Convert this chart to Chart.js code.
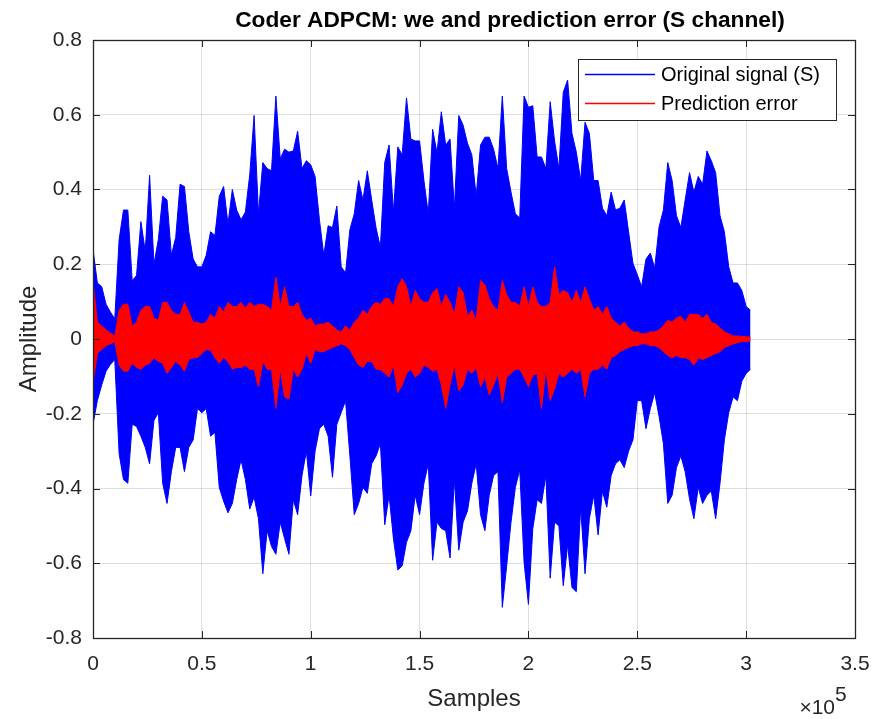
<!DOCTYPE html>
<html>
<head>
<meta charset="utf-8">
<title>Coder ADPCM</title>
<script src="https://cdn.jsdelivr.net/npm/chart.js@4.4.1/dist/chart.umd.min.js"></script>
<style>
	html, body { margin: 0; padding: 0; background: #fff; }
	#wrap { width: 876px; height: 719px; position: relative; }
</style>
</head>
<body>
<div id="wrap"><canvas id="adpcmChart"></canvas></div>
<script>
// Envelope of the waveform, every 2000 samples (0 .. 302000)
const step = 2000;

// Original signal (S): upper / lower peaks
const sigHi = [
	0.24, 0.15, 0.14, 0.093, 0.072, 0.054, 0.266, 0.345, 0.345, 0.156, 0.17, 0.314, 0.235, 0.438, 0.2, 0.266, 0.382, 0.372, 0.224, 0.272, 0.414, 0.408, 0.287, 0.214, 0.193,
	0.193, 0.224, 0.287, 0.277, 0.382, 0.408, 0.308, 0.4, 0.345, 0.319, 0.34, 0.44, 0.598, 0.335, 0.472, 0.456, 0.45, 0.65, 0.482, 0.508, 0.5, 0.503, 0.556, 0.456, 0.477,
	0.466, 0.435, 0.319, 0.224, 0.303, 0.298, 0.356, 0.193, 0.177, 0.293, 0.335, 0.424, 0.372, 0.45, 0.372, 0.298, 0.245, 0.472, 0.519, 0.34, 0.514, 0.493, 0.645, 0.535, 0.53,
	0.53, 0.424, 0.335, 0.561, 0.498, 0.608, 0.519, 0.535, 0.35, 0.598, 0.572, 0.524, 0.493, 0.382, 0.519, 0.54, 0.54, 0.508, 0.456, 0.65, 0.456, 0.393, 0.335, 0.324, 0.65,
	0.62, 0.624, 0.487, 0.487, 0.456, 0.635, 0.53, 0.456, 0.66, 0.693, 0.55, 0.5, 0.424, 0.58, 0.55, 0.424, 0.424, 0.35, 0.33, 0.393, 0.345, 0.35, 0.372, 0.287, 0.203,
	0.172, 0.14, 0.214, 0.23, 0.19, 0.3, 0.345, 0.472, 0.424, 0.33, 0.298, 0.372, 0.445, 0.393, 0.435, 0.414, 0.503, 0.477, 0.445, 0.33, 0.287, 0.193, 0.15, 0.15, 0.13, 0.087, 0.077
];
const sigLo = [
	-0.228, -0.165, -0.123, -0.086, -0.068, -0.055, -0.307, -0.376, -0.386, -0.228, -0.234, -0.26, -0.29, -0.334, -0.218, -0.197, -0.386, -0.44, -0.355, -0.29, -0.29, -0.355, -0.29, -0.27, -0.186,
	-0.197, -0.186, -0.26, -0.25, -0.397, -0.434, -0.465, -0.44, -0.376, -0.323, -0.376, -0.455, -0.423, -0.481, -0.628, -0.513, -0.555, -0.576, -0.49, -0.534, -0.576, -0.43, -0.47, -0.365, -0.3,
	-0.42, -0.3, -0.24, -0.228, -0.26, -0.37, -0.228, -0.197, -0.165, -0.313, -0.47, -0.44, -0.397, -0.413, -0.334, -0.313, -0.28, -0.497, -0.418, -0.534, -0.618, -0.607, -0.544, -0.513, -0.418,
	-0.47, -0.386, -0.334, -0.592, -0.49, -0.507, -0.513, -0.586, -0.376, -0.565, -0.49, -0.46, -0.386, -0.334, -0.47, -0.513, -0.418, -0.365, -0.355, -0.718, -0.607, -0.49, -0.397, -0.35, -0.597,
	-0.71, -0.508, -0.43, -0.44, -0.365, -0.64, -0.49, -0.5, -0.66, -0.55, -0.665, -0.676, -0.45, -0.628, -0.48, -0.418, -0.524, -0.407, -0.45, -0.365, -0.334, -0.323, -0.344, -0.3, -0.27,
	-0.165, -0.165, -0.24, -0.186, -0.144, -0.207, -0.28, -0.44, -0.418, -0.344, -0.313, -0.355, -0.428, -0.481, -0.397, -0.44, -0.418, -0.407, -0.481, -0.386, -0.27, -0.197, -0.155, -0.165, -0.113, -0.092, -0.081
];

// Prediction error: upper / lower peaks
const errHi = [
	0.156, 0.045, 0.035, 0.024, 0.016, 0.008, 0.077, 0.093, 0.093, 0.035, 0.045, 0.077, 0.087, 0.087, 0.056, 0.05, 0.098, 0.098, 0.077, 0.066, 0.066, 0.098, 0.072, 0.045, 0.045,
	0.04, 0.045, 0.066, 0.056, 0.087, 0.072, 0.098, 0.087, 0.087, 0.098, 0.082, 0.098, 0.087, 0.093, 0.093, 0.087, 0.077, 0.166, 0.087, 0.14, 0.087, 0.087, 0.098, 0.066, 0.05,
	0.056, 0.035, 0.04, 0.04, 0.045, 0.035, 0.024, 0.019, 0.035, 0.024, 0.045, 0.056, 0.077, 0.066, 0.087, 0.098, 0.093, 0.108, 0.108, 0.087, 0.14, 0.161, 0.14, 0.087, 0.13,
	0.108, 0.098, 0.098, 0.124, 0.135, 0.087, 0.119, 0.098, 0.066, 0.14, 0.124, 0.061, 0.077, 0.05, 0.156, 0.145, 0.108, 0.087, 0.077, 0.156, 0.119, 0.098, 0.098, 0.087, 0.14,
	0.087, 0.14, 0.098, 0.087, 0.087, 0.098, 0.193, 0.119, 0.13, 0.124, 0.098, 0.13, 0.098, 0.14, 0.108, 0.077, 0.087, 0.066, 0.087, 0.056, 0.045, 0.035, 0.045, 0.03, 0.019,
	0.019, 0.014, 0.014, 0.019, 0.019, 0.024, 0.035, 0.05, 0.045, 0.056, 0.061, 0.045, 0.066, 0.066, 0.066, 0.056, 0.066, 0.045, 0.04, 0.03, 0.019, 0.014, 0.008, 0.008, 0.007, 0.006, 0.005
];
const errLo = [
	-0.118, -0.039, -0.028, -0.018, -0.013, -0.007, -0.07, -0.086, -0.086, -0.065, -0.076, -0.081, -0.07, -0.065, -0.05, -0.06, -0.065, -0.092, -0.076, -0.06, -0.07, -0.086, -0.055, -0.05, -0.05,
	-0.039, -0.028, -0.03, -0.05, -0.065, -0.05, -0.06, -0.081, -0.076, -0.076, -0.07, -0.081, -0.081, -0.128, -0.06, -0.081, -0.081, -0.186, -0.081, -0.155, -0.16, -0.081, -0.102, -0.081, -0.039,
	-0.065, -0.028, -0.034, -0.034, -0.028, -0.023, -0.018, -0.013, -0.018, -0.028, -0.05, -0.07, -0.076, -0.06, -0.06, -0.081, -0.081, -0.092, -0.102, -0.07, -0.144, -0.123, -0.092, -0.081, -0.102,
	-0.092, -0.07, -0.076, -0.086, -0.081, -0.123, -0.186, -0.123, -0.07, -0.139, -0.123, -0.081, -0.092, -0.076, -0.128, -0.102, -0.15, -0.123, -0.092, -0.17, -0.102, -0.092, -0.081, -0.081, -0.102,
	-0.128, -0.097, -0.092, -0.186, -0.081, -0.165, -0.134, -0.092, -0.102, -0.092, -0.081, -0.092, -0.081, -0.155, -0.092, -0.081, -0.081, -0.07, -0.081, -0.05, -0.044, -0.034, -0.028, -0.023, -0.018,
	-0.018, -0.013, -0.013, -0.018, -0.018, -0.023, -0.034, -0.044, -0.05, -0.044, -0.05, -0.05, -0.055, -0.07, -0.05, -0.055, -0.05, -0.044, -0.039, -0.034, -0.023, -0.018, -0.013, -0.01, -0.007, -0.007, -0.005
];

const seriesLabels = ['Original signal (S)', 'Prediction error'];
const seriesColors = ['#0000ff', '#ff0000'];
const chartTitle = 'Coder ADPCM: we and prediction error (S channel)';

// MATLAB-ish look
const ink = '#262626';
const gridColor = 'rgba(38,38,38,0.15)';
const fontFamily = '"Liberation Sans", Arial, Helvetica, sans-serif';

const sampleIdx = sigHi.map((_, i) => i * step);

function points(vals) {
	return sampleIdx.map((s, i) => ({ x: s, y: vals[i] }));
}

// One envelope = upper line filled down to the lower line
function envelope(label, color, hi, lo, order) {
	let base = { borderColor: color, backgroundColor: color, borderWidth: 1, pointRadius: 0, tension: 0, order: order };
	return [
		{ ...base, label: label, data: points(hi), fill: '+1' },
		{ ...base, label: label, data: points(lo), fill: false, isLower: true },
	];
}

// Box, inward ticks, legend inside the axes, title and x10^5 exponent
const matlabAxes = {
	id: 'matlabAxes',
	afterDatasetsDraw(chart) {
		const { ctx, chartArea: a, scales: { x, y } } = chart;
		const tickLen = 7;
		ctx.save();
		ctx.strokeStyle = ink;
		ctx.lineWidth = 1;
		ctx.beginPath();
		x.ticks.forEach(t => {
			let px = Math.round(x.getPixelForValue(t.value)) + 0.5;
			ctx.moveTo(px, a.bottom); ctx.lineTo(px, a.bottom - tickLen);
			ctx.moveTo(px, a.top); ctx.lineTo(px, a.top + tickLen);
		});
		y.ticks.forEach(t => {
			let py = Math.round(y.getPixelForValue(t.value)) + 0.5;
			ctx.moveTo(a.left, py); ctx.lineTo(a.left + tickLen, py);
			ctx.moveTo(a.right, py); ctx.lineTo(a.right - tickLen, py);
		});
		ctx.stroke();
		ctx.lineWidth = 1.3;
		ctx.strokeRect(Math.round(a.left) + 0.5, Math.round(a.top) + 0.5, Math.round(a.right - a.left), Math.round(a.bottom - a.top));

		// legend
		let bw = 258, bh = 61;
		let bx = Math.round(a.right) - 19 - bw, by = Math.round(a.top) + 19;
		ctx.fillStyle = '#fff';
		ctx.fillRect(bx, by, bw, bh);
		ctx.lineWidth = 1;
		ctx.strokeStyle = ink;
		ctx.strokeRect(bx + 0.5, by + 0.5, bw, bh);
		ctx.font = '20px ' + fontFamily;
		ctx.textBaseline = 'middle';
		ctx.textAlign = 'left';
		chart.data.datasets.filter(ds => !ds.isLower).forEach((ds, i) => {
			let ly = by + 15.5 + i * 29;
			ctx.strokeStyle = ds.borderColor;
			ctx.lineWidth = 1.3;
			ctx.beginPath();
			ctx.moveTo(bx + 7, ly); ctx.lineTo(bx + 77, ly);
			ctx.stroke();
			ctx.fillStyle = '#000';
			ctx.fillText(ds.label, bx + 83, ly + 1);
		});
		ctx.restore();
	},
	afterDraw(chart) {
		const { ctx, chartArea: a } = chart;
		ctx.save();
		ctx.fillStyle = '#000';
		ctx.font = 'bold 22.7px ' + fontFamily;
		ctx.textAlign = 'center';
		ctx.textBaseline = 'alphabetic';
		ctx.fillText(chartTitle, 510, 27);

		ctx.fillStyle = ink;
		ctx.font = '21px ' + fontFamily;
		ctx.textAlign = 'right';
		ctx.fillText('\u00d710', a.right - 20, 714);
		ctx.textAlign = 'left';
		ctx.fillText('5', a.right - 20, 701);
		ctx.restore();
	}
};

let chart = new Chart(document.querySelector('#adpcmChart'), {
	type: 'line',
	data: {
		datasets: [
			...envelope(seriesLabels[0], seriesColors[0], sigHi, sigLo, 2),
			...envelope(seriesLabels[1], seriesColors[1], errHi, errLo, 1),
		]
	},
	options: {
		responsive: true,
		maintainAspectRatio: false,
		animation: false,
		layout: { padding: { left: 0, right: 21, top: 40, bottom: 0 } },
		plugins: {
			legend: { display: false },
			title: { display: false },
			tooltip: { enabled: false }
		},
		scales: {
			x: {
				type: 'linear',
				min: 0,
				max: 350000,
				grid: { color: gridColor, drawTicks: false },
				border: { display: false },
				ticks: {
					stepSize: 50000,
					autoSkip: false,
					maxRotation: 0,
					padding: 14,
					color: ink,
					font: { family: fontFamily, size: 21 },
					callback: v => String(v / 1e5)
				},
				title: {
					display: true,
					text: 'Samples',
					color: ink,
					font: { family: fontFamily, size: 24 },
					padding: { top: 0, bottom: 5 }
				},
				afterFit: s => { s.height = 81; s.paddingLeft = 0; s.paddingRight = 0; }
			},
			y: {
				min: -0.8,
				max: 0.8,
				grid: { color: gridColor, drawTicks: false },
				border: { display: false },
				ticks: {
					stepSize: 0.2,
					padding: 11,
					color: ink,
					font: { family: fontFamily, size: 21 },
					callback: v => Math.abs(v) < 1e-9 ? '0' : v.toFixed(1)
				},
				title: {
					display: true,
					text: 'Amplitude',
					color: ink,
					font: { family: fontFamily, size: 24 },
					padding: { top: 15, bottom: 0 }
				},
				afterFit: s => { s.width = 93; }
			}
		}
	},
	plugins: [matlabAxes]
});
</script>
</body>
</html>
